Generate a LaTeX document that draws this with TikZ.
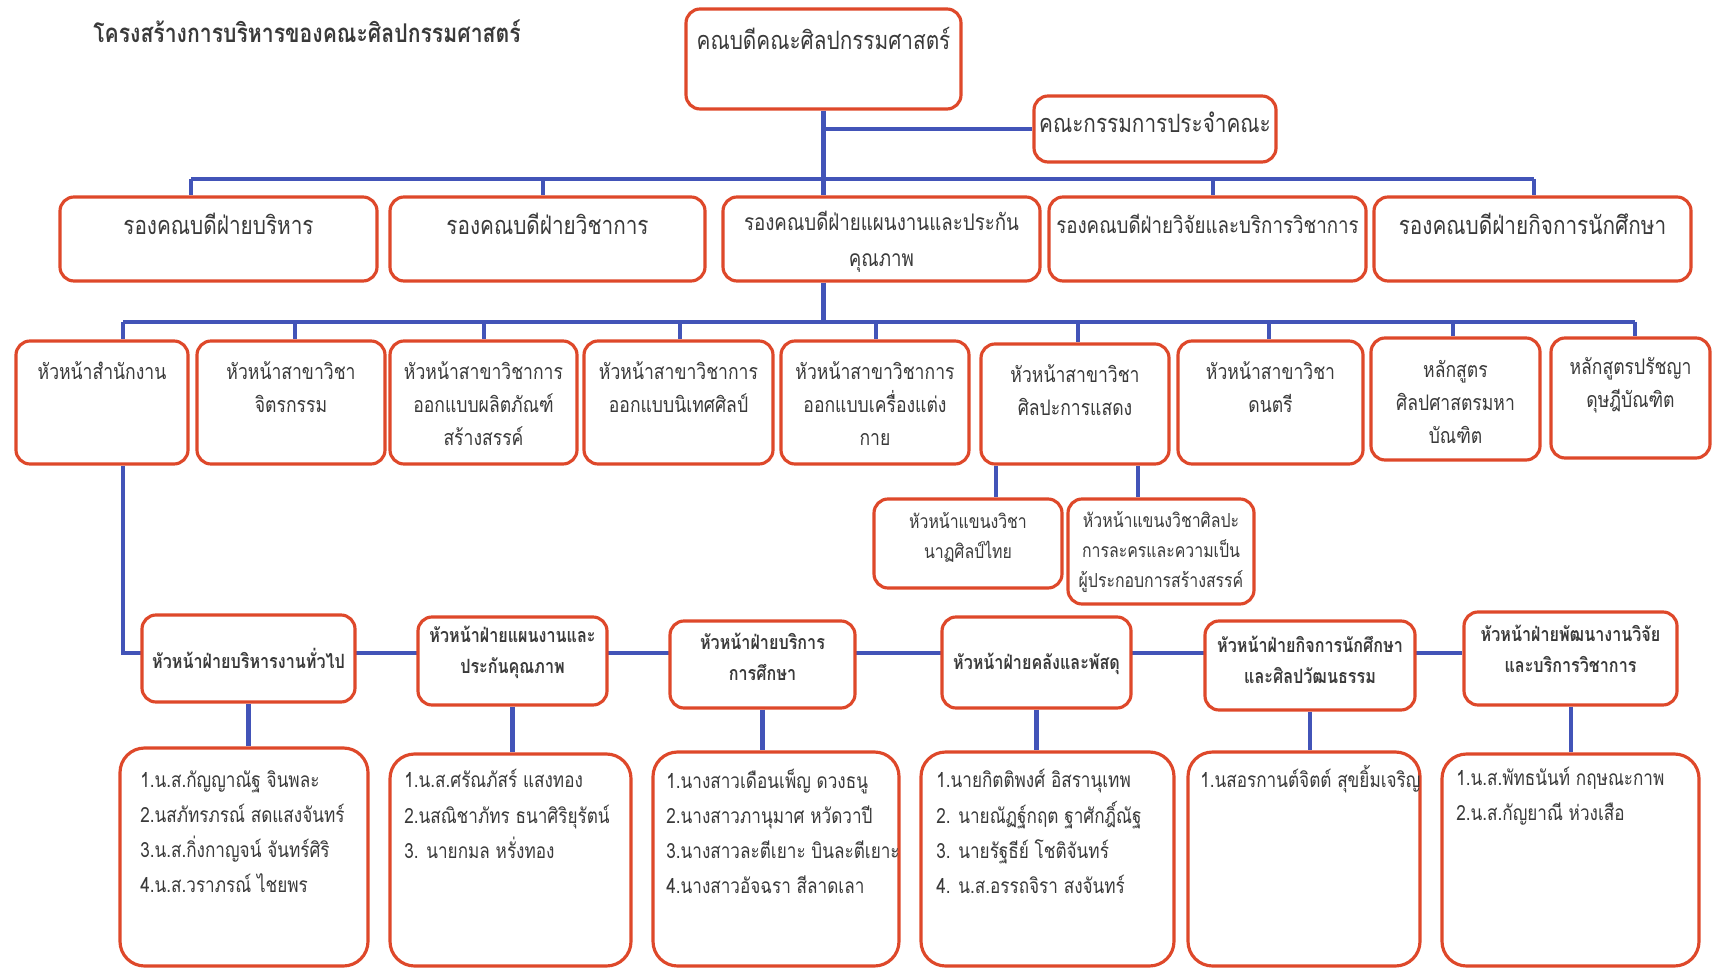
\documentclass[tikz,border=0pt]{standalone}
\usepackage{fontspec}
\setmainfont[Script=Thai, FakeStretch=0.82]{Loma}
\usetikzlibrary{backgrounds}
\definecolor{boxred}{RGB}{222,72,42}
\definecolor{linkblue}{RGB}{66,84,184}
\definecolor{txtgray}{RGB}{58,58,58}
\tikzset{box/.style={draw=boxred, line width=1.8pt, rounded corners=8pt, fill=white, inner sep=0pt},
  sz/.style 2 args={minimum width=#1*0.02cm, minimum height=#2*0.02cm},
  link/.style={draw=linkblue, line width=2.3pt},
  txt/.style={text=txtgray, align=center, inner sep=0pt},
  big/.style={font=\fontsize{14.4}{20.5}\selectfont},
  bigish/.style={font=\fontsize{13}{20.5}\selectfont},
  mid/.style={font=\fontsize{12.2}{18.8}\selectfont},
  small/.style={font=\fontsize{11}{17}\selectfont},
  head/.style={font=\bfseries\fontsize{11.2}{17.6}\selectfont},
  list/.style={font=\fontsize{11.9}{20}\selectfont, align=left, anchor=west}}

\begin{document}
\begin{tikzpicture}[x=0.02cm, y=-0.02cm]
  \useasboundingbox (0,0) rectangle (1713,972);
  \node[txt, font=\bfseries\fontsize{14.7}{18}\selectfont] (title) at (307,31) {โครงสร้างการบริหารของคณะศิลปกรรมศาสตร์};

  % dean and committee
  \node[box, sz={275}{100}] (dean) at (823.5,59) {};
  \node[txt, big] (deanT) at (823.5,38) {คณบดีคณะศิลปกรรมศาสตร์};
  \node[box, sz={242}{66}] (comm) at (1155,129) {};
  \node[txt, big] (commT) at (1155,122) {คณะกรรมการประจำคณะ};

  % vice deans
  \node[box, sz={317}{84}] (v1) at ( 218.5,239) {};
  \node[box, sz={315}{84}] (v2) at ( 547.5,239) {};
  \node[box, sz={317}{84}] (v3) at ( 881.5,239) {};
  \node[box, sz={317}{84}] (v4) at (1207.5,239) {};
  \node[box, sz={317}{84}] (v5) at (1532.5,239) {};
  \node[txt, big] (v1T) at ( 218.5,224) {รองคณบดีฝ่ายบริหาร};
  \node[txt, big] (v2T) at ( 547.5,224) {รองคณบดีฝ่ายวิชาการ};
  \node[txt, bigish] (v3T) at ( 881.5,242) {รองคณบดีฝ่ายแผนงานและประกัน\\คุณภาพ};
  \node[txt, bigish] (v4T) at (1207.5,224) {รองคณบดีฝ่ายวิจัยและบริการวิชาการ};
  \node[txt, big] (v5T) at (1532.5,224) {รองคณบดีฝ่ายกิจการนักศึกษา};

  % heads of units
  \node[box, sz={172}{123}] (h1) at ( 102,402.5) {};
  \node[box, sz={188}{123}] (h2) at ( 291,402.5) {};
  \node[box, sz={187}{123}] (h3) at ( 483.5,402.5) {};
  \node[box, sz={189}{123}] (h4) at ( 678.5,402.5) {};
  \node[box, sz={188}{123}] (h5) at ( 875,402.5) {};
  \node[box, sz={188}{120}] (h6) at (1075,404) {};
  \node[box, sz={185}{123}] (h7) at (1270.5,402.5) {};
  \node[box, sz={169}{122}] (h8) at (1455.5,399) {};
  \node[box, sz={159}{120}] (h9) at (1630.5,398) {};
  \node[txt, mid] (h1T) at ( 102,371) {หัวหน้าสำนักงาน};
  \node[txt, mid] (h2T) at ( 291,387) {หัวหน้าสาขาวิชา\\จิตรกรรม};
  \node[txt, mid] (h3T) at ( 483.5,404) {หัวหน้าสาขาวิชาการ\\ออกแบบผลิตภัณฑ์\\สร้างสรรค์};
  \node[txt, mid] (h4T) at ( 678.5,387) {หัวหน้าสาขาวิชาการ\\ออกแบบนิเทศศิลป์};
  \node[txt, mid] (h5T) at ( 875,404) {หัวหน้าสาขาวิชาการ\\ออกแบบเครื่องแต่ง\\กาย};
  \node[txt, mid] (h6T) at (1075,390) {หัวหน้าสาขาวิชา\\ศิลปะการแสดง};
  \node[txt, mid] (h7T) at (1270.5,387) {หัวหน้าสาขาวิชา\\ดนตรี};
  \node[txt, mid] (h8T) at (1455.5,402) {หลักสูตร\\ศิลปศาสตรมหา\\บัณฑิต};
  \node[txt, mid] (h9T) at (1630.5,385) {หลักสูตรปรัชญา\\ดุษฎีบัณฑิต};

  % branches of the performing arts
  \node[box, sz={188}{89}]  (s1) at ( 968,543.5) {};
  \node[box, sz={186}{105}] (s2) at (1161,551.5) {};
  \node[txt, small] (s1T) at ( 968,537) {หัวหน้าแขนงวิชา\\นาฏศิลป์ไทย};
  \node[txt, small] (s2T) at (1161,552) {หัวหน้าแขนงวิชาศิลปะ\\การละครและความเป็น\\ผู้ประกอบการสร้างสรรค์};

  % office sections
  \node[box, sz={213}{87}] (a) at ( 248.5,658.5) {};
  \node[box, sz={189}{88}] (b) at ( 512.5,661) {};
  \node[box, sz={185}{87}] (c) at ( 762.5,664.5) {};
  \node[box, sz={189}{91}] (d) at (1036.5,662.5) {};
  \node[box, sz={210}{89}] (e) at (1310,665.5) {};
  \node[box, sz={213}{93}] (f) at (1570.5,658.5) {};
  \node[txt, head] (aT) at ( 248.5,658) {หัวหน้าฝ่ายบริหารงานทั่วไป};
  \node[txt, head] (bT) at ( 512.5,652.5) {หัวหน้าฝ่ายแผนงานและ\\ประกันคุณภาพ};
  \node[txt, head] (cT) at ( 762.5,656.5) {หัวหน้าฝ่ายบริการ\\การศึกษา};
  \node[txt, head] (dT) at (1036.5,664) {หัวหน้าฝ่ายคลังและพัสดุ};
  \node[txt, head] (eT) at (1310,659.5) {หัวหน้าฝ่ายกิจการนักศึกษา\\และศิลปวัฒนธรรม};
  \node[txt, head] (fT) at (1570.5,648.5) {หัวหน้าฝ่ายพัฒนางานวิจัย\\และบริการวิชาการ};

  % staff
  \node[box, rounded corners=14pt, sz={248}{218}] (r1) at ( 244,857) {};
  \node[box, rounded corners=14pt, sz={241}{212}] (r2) at ( 510.5,860) {};
  \node[box, rounded corners=14pt, sz={246}{214}] (r3) at ( 776,859) {};
  \node[box, rounded corners=14pt, sz={253}{214}] (r4) at (1047.5,859) {};
  \node[box, rounded corners=14pt, sz={232}{214}] (r5) at (1304,859) {};
  \node[box, rounded corners=14pt, sz={257}{212}] (r6) at (1570.5,860) {};
  \node[txt, list] (r1T) at ( 140,831.5) {1.น.ส.กัญญาณัฐ จินพละ\\2.นสภัทรภรณ์ สดแสงจันทร์\\3.น.ส.กิ่งกาญจน์ จันทร์ศิริ\\4.น.ส.วราภรณ์ ไชยพร};
  \node[txt, list] (r2T) at ( 404,814) {1.น.ส.ศรัณภัสร์ แสงทอง\\2.นสณิชาภัทร ธนาศิริยุรัตน์\\3. นายกมล หรั่งทอง};
  \node[txt, list] (r3T) at ( 666,831.5) {1.นางสาวเดือนเพ็ญ ดวงธนู\\2.นางสาวภานุมาศ หวัดวาปี\\3.นางสาวละตีเยาะ บินละตีเยาะ\\4.นางสาวอัจฉรา สีลาดเลา};
  \node[txt, list] (r4T) at ( 936,831.5) {1.นายกิตติพงศ์ อิสรานุเทพ\\2. นายณัฏฐ์กฤต ฐาศักฎิ์ณัฐ\\3. นายรัฐธีย์ โชติจันทร์\\4. น.ส.อรรถจิรา สงจันทร์};
  \node[txt, list] (r5T) at (1200,779) {1.นสอรกานต์จิตต์ สุขยิ้มเจริญ};
  \node[txt, list] (r6T) at (1456,796.5) {1.น.ส.พัทธนันท์ กฤษณะกาพ\\2.น.ส.กัญยาณี ห่วงเสือ};

  % bus points
  \coordinate (d1) at ( 191,179); \coordinate (d2) at ( 543,179);
  \coordinate (d4) at (1213,179); \coordinate (d5) at (1534,179);
  \coordinate (e1) at ( 123,322); \coordinate (e2) at ( 295,322);
  \coordinate (e3) at ( 484,322); \coordinate (e4) at ( 680,322);
  \coordinate (e5) at ( 876,322); \coordinate (e6) at (1078,322);
  \coordinate (e7) at (1269,322); \coordinate (e8) at (1453,322);
  \coordinate (e9) at (1635,322);
  \coordinate (f1) at ( 996,480); \coordinate (f2) at (1138,480);
  \coordinate (g)  at (   0,653);

  \begin{scope}[on background layer]
   \draw[link] (dean.south) -- (dean.south |- v3.north);
   \draw[link] (dean.south |- comm.west) -- (comm.west);
   \draw[link] (d1) -- (d5);
   \foreach \n in {1,2,4,5} \draw[link] (d\n) -- (d\n |- v\n.north);
   \draw[link] (dean.south |- v3.south) -- (dean.south |- e1);
   \draw[link] (e1) -- (e9);
   \foreach \n in {1,...,9} \draw[link] (e\n) -- (e\n |- h\n.north);
   \draw[link] (f1 |- h6.south) -- (f1 |- s1.north);
   \draw[link] (f2 |- h6.south) -- (f2 |- s2.north);
   \draw[link] (e1 |- h1.south) -- (e1 |- g) -- (f.west |- g);
   \foreach \x/\y in {a/r1,b/r2,c/r3,d/r4,e/r5,f/r6} \draw[link] (\x.south) -- (\x.south |- \y.north);
  \end{scope}
\end{tikzpicture}
\end{document}
